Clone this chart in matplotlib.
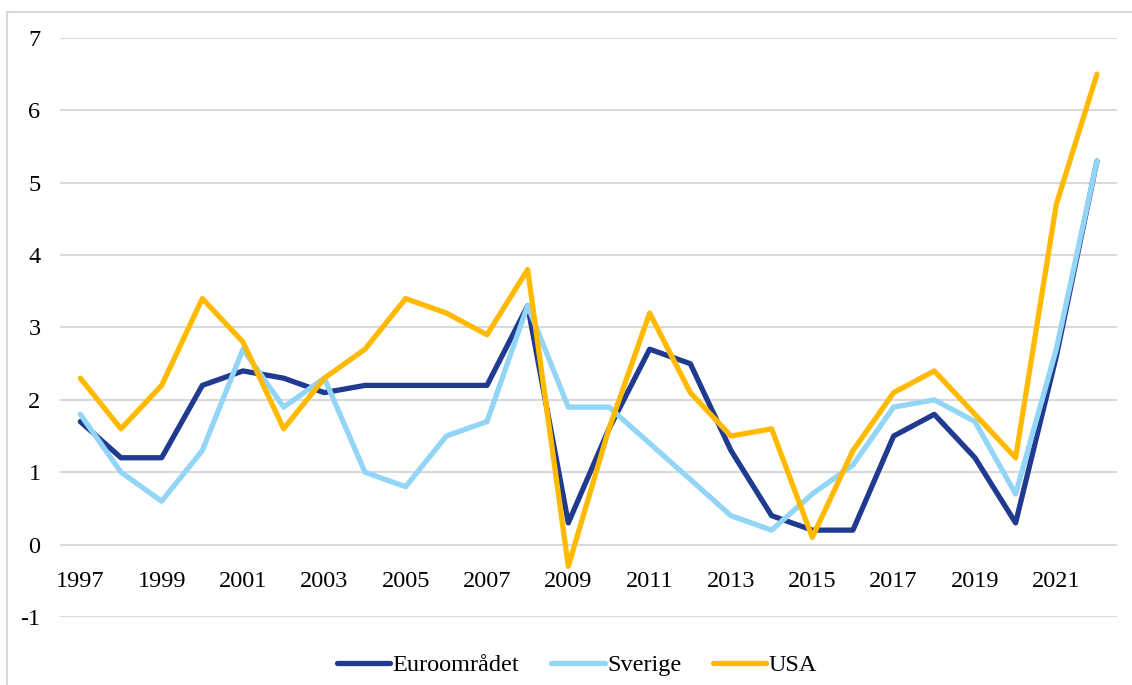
import matplotlib.pyplot as plt
from matplotlib.patches import Rectangle

years = list(range(1997, 2023))
euro = [1.7, 1.2, 1.2, 2.2, 2.4, 2.3, 2.1, 2.2, 2.2, 2.2, 2.2, 3.3, 0.3,
        1.6, 2.7, 2.5, 1.3, 0.4, 0.2, 0.2, 1.5, 1.8, 1.2, 0.3, 2.6, 5.3]
sverige = [1.8, 1.0, 0.6, 1.3, 2.7, 1.9, 2.3, 1.0, 0.8, 1.5, 1.7, 3.3, 1.9,
           1.9, 1.4, 0.9, 0.4, 0.2, 0.7, 1.1, 1.9, 2.0, 1.7, 0.7, 2.7, 5.3]
usa = [2.3, 1.6, 2.2, 3.4, 2.8, 1.6, 2.3, 2.7, 3.4, 3.2, 2.9, 3.8, -0.3,
       1.6, 3.2, 2.1, 1.5, 1.6, 0.1, 1.3, 2.1, 2.4, 1.8, 1.2, 4.7, 6.5]
yticks = list(range(-1, 8))

plt.rcParams['font.family'] = ['Liberation Serif', 'DejaVu Serif']

fig = plt.figure(figsize=(11.32, 6.85), dpi=100)
ax = fig.add_axes([0.053, 0.0993, 0.934, 0.8452])

# light frame around the chart area
fig.patches.append(Rectangle((7 / 1132, -0.05), 1.2, 1 - 12 / 685 + 0.05,
                             transform=fig.transFigure, fill=False,
                             edgecolor='#D9D9D9', linewidth=1.5))

ax.plot(years, euro, color='#203A8F', lw=3.8, label='Euroområdet',
        solid_joinstyle='round', solid_capstyle='round', zorder=3)
ax.plot(years, sverige, color='#93D5F6', lw=3.8, label='Sverige',
        solid_joinstyle='round', solid_capstyle='round', zorder=3)
ax.plot(years, usa, color='#FFBA00', lw=3.8, label='USA',
        solid_joinstyle='round', solid_capstyle='round', zorder=4)

ax.set_xlim(1996.5, 2022.5)
ax.set_ylim(-1, 7)
ax.set_yticks(yticks)
ax.set_yticklabels([str(v) for v in yticks])
ax.set_xticks(years[::2])
ax.set_xticklabels([str(y) for y in years[::2]])
ax.grid(axis='y', color='#D9D9D9', linewidth=1.5, zorder=0)
ax.set_axisbelow(True)

for side in ['top', 'right', 'left']:
    ax.spines[side].set_visible(False)
ax.spines['bottom'].set_position(('data', 0))
ax.spines['bottom'].set_visible(False)
ax.tick_params(axis='x', length=0, pad=19, labelsize=17.5)
ax.tick_params(axis='y', length=0, pad=14, labelsize=17.5)

ax.legend(loc='center', bbox_to_anchor=(0.489, -0.083), ncol=3,
          frameon=False, fontsize=17.5, handlelength=2.2,
          handletextpad=0.1, columnspacing=1.3)

fig.savefig('out.png', dpi=100)
